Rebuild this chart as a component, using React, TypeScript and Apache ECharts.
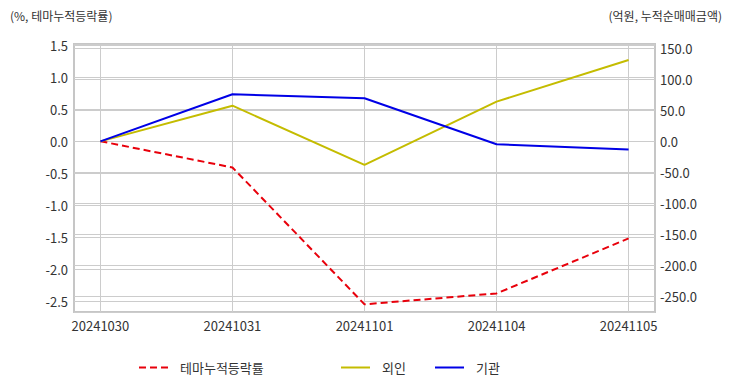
import React, { useEffect, useRef } from "react";
import * as echarts from "echarts";

const dates = ["20241030", "20241031", "20241101", "20241104", "20241105"];
const themeRate = [0, -0.41, -2.55, -2.38, -1.52];
const foreign = [0, 57.7, -37.9, 64.2, 131.5];
const institution = [0, 76.1, 69.7, -4.5, -13.2];

const leftTitle = "(%, 테마누적등락률)";
const rightTitle = "(억원, 누적순매매금액)";
const seriesNames = ["테마누적등락률", "외인", "기관"];

const FONT = "'Noto Sans CJK KR', 'Noto Sans', sans-serif";
const TEXT = "#333";
const GRID = "#cccccc";

const DASH_ICON = "path://M0,0h7v2h-7z M11,0h7v2h-7z M22,0h7v2h-7z";
const SOLID_ICON = "path://M0,0h29v2h-29z";

const isMultiple = (v: number, step: number) => {
  const r = v / step;
  return Math.abs(r - Math.round(r)) < 1e-6;
};

export default function App() {
  const ref = useRef<HTMLDivElement>(null);
  useEffect(() => {
    if (!ref.current) return;
    const chart = echarts.init(ref.current, undefined, { renderer: "svg" });
    const pts = (arr: number[]) => arr.map((v, i) => [i, v]);
    const legendBase = {
      top: 361,
      padding: 0,
      itemWidth: 29,
      itemHeight: 2,
      textStyle: { fontFamily: FONT, fontSize: 13, color: TEXT, padding: [0, 0, 0, 7] },
    };
    const titleStyle = { fontFamily: FONT, fontSize: 12, fontWeight: "normal", color: TEXT };
    chart.setOption({
      animation: false,
      textStyle: { fontFamily: FONT },
      title: [
        { text: leftTitle, left: 10, top: 9, padding: 0, textStyle: titleStyle },
        { text: rightTitle, right: 10, top: 9, padding: 0, textStyle: titleStyle },
      ],
      legend: [
        { ...legendBase, left: 139, data: [{ name: seriesNames[0], icon: DASH_ICON }] },
        { ...legendBase, left: 341, data: [{ name: seriesNames[1], icon: SOLID_ICON }] },
        { ...legendBase, left: 435, data: [{ name: seriesNames[2], icon: SOLID_ICON }] },
      ],
      grid: [
        { left: 74, right: 77, top: 44, bottom: 80, show: true, borderColor: "#c6c6c6", borderWidth: 2, backgroundColor: "transparent" },
        { left: 100.4, right: 103.4, top: 44, bottom: 80 },
      ],
      xAxis: [
        {
          type: "value", gridIndex: 0, min: -0.2, max: 4.2,
          axisLine: { show: false }, axisTick: { show: false }, axisLabel: { show: false }, splitLine: { show: false },
        },
        {
          type: "category", gridIndex: 1, data: dates, boundaryGap: false,
          axisLine: { show: false }, axisTick: { show: false },
          axisLabel: { color: TEXT, fontSize: 13, fontFamily: FONT, margin: 7 },
          splitLine: { show: true, lineStyle: { color: GRID, width: 1 } },
        },
      ],
      yAxis: [
        {
          type: "value", gridIndex: 0, position: "left", min: -2.67, max: 1.52,
          splitNumber: 10, minInterval: 0.5, maxInterval: 0.5,
          axisLine: { show: false }, axisTick: { show: false },
          axisLabel: {
            color: TEXT, fontSize: 13, fontFamily: FONT, margin: 6,
            formatter: (v: number) => (isMultiple(v, 0.5) ? v.toFixed(1) : ""),
          },
          splitLine: { show: true, lineStyle: { color: GRID, width: 1 } },
        },
        {
          type: "value", gridIndex: 0, position: "right", min: -275.5, max: 157.3,
          splitNumber: 10, minInterval: 50, maxInterval: 50,
          axisLine: { show: false }, axisTick: { show: false },
          axisLabel: {
            color: TEXT, fontSize: 13, fontFamily: FONT, margin: 5,
            formatter: (v: number) => (isMultiple(v, 50) ? v.toFixed(1) : ""),
          },
          splitLine: { show: true, lineStyle: { color: GRID, width: 1 } },
        },
        { type: "value", gridIndex: 1, show: false, splitLine: { show: false } },
      ],
      series: [
        {
          name: seriesNames[0], type: "line", xAxisIndex: 0, yAxisIndex: 0, data: pts(themeRate),
          symbol: "none", lineStyle: { color: "#e8000b", width: 2, type: [7, 4] }, itemStyle: { color: "#e8000b" },
        },
        {
          name: seriesNames[1], type: "line", xAxisIndex: 0, yAxisIndex: 1, data: pts(foreign),
          symbol: "none", lineStyle: { color: "#c4bc00", width: 2 }, itemStyle: { color: "#c4bc00" },
        },
        {
          name: seriesNames[2], type: "line", xAxisIndex: 0, yAxisIndex: 1, data: pts(institution),
          symbol: "none", lineStyle: { color: "#0000e6", width: 2 }, itemStyle: { color: "#0000e6" },
        },
      ],
    });
    return () => chart.dispose();
  }, []);
  return (
    <div
      ref={ref}
      style={{ position: "fixed", left: 0, top: 0, width: 732, height: 392, background: "#fff" }}
    />
  );
}
